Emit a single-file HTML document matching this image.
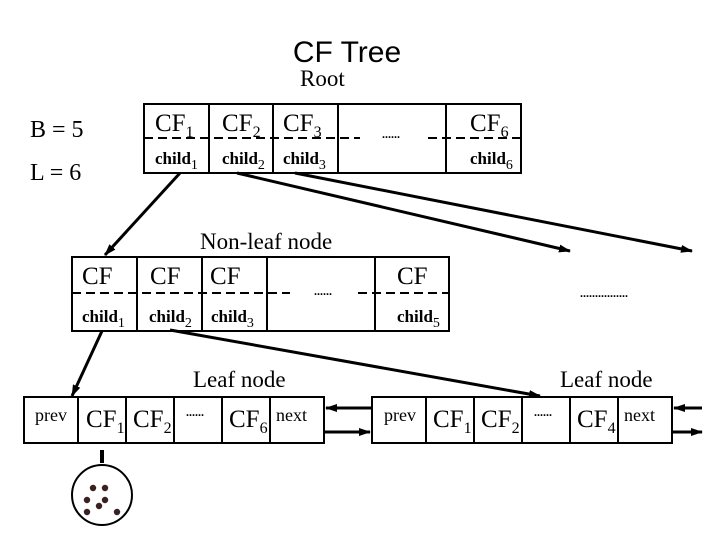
<!DOCTYPE html>
<html><head><style>
body{margin:0;background:#fff}
svg{display:block}
text{font-family:"Liberation Serif",serif;fill:#000}
</style></head><body>
<svg width="720" height="540" viewBox="0 0 720 540">
<defs><marker id="a" markerWidth="12" markerHeight="10" refX="11" refY="5" orient="auto" markerUnits="userSpaceOnUse"><path d="M0,1 L12,5 L0,9 z" fill="#000"/></marker></defs>
<text x="347" y="62" font-size="30" text-anchor="middle" style="font-family:'Liberation Sans',sans-serif">CF Tree</text>
<text x="300" y="86" font-size="23">Root</text>
<text x="30" y="137" font-size="24">B = 5</text>
<text x="30" y="180" font-size="24">L = 6</text>
<g stroke="#000" stroke-width="2" fill="none">
<rect x="144" y="104" width="377" height="69"/>
<path d="M209,104V173M273,104V173M338,104V173M446,104V173"/>
<path d="M144,138H360M428,138H521" stroke-dasharray="9,5"/>
<rect x="72" y="257" width="377" height="74"/>
<path d="M137,257V331M202,257V331M267,257V331M375,257V331"/>
<path d="M72,293H290M358,293H449" stroke-dasharray="9,5"/>
<rect x="24" y="397" width="300" height="46"/>
<path d="M78,397V443M126,397V443M174,397V443M222,397V443M270,397V443"/>
<rect x="372" y="397" width="300" height="46"/>
<path d="M426,397V443M474,397V443M522,397V443M570,397V443M618,397V443"/>
<g stroke-width="3">
<path d="M180,173L105,255" marker-end="url(#a)"/>
<path d="M237,173L570,251" marker-end="url(#a)"/>
<path d="M295,173L692,251" marker-end="url(#a)"/>
<path d="M102,331L72,396" marker-end="url(#a)"/>
<path d="M170,330L540,396" marker-end="url(#a)"/>
<path d="M372,408L326,408" marker-end="url(#a)"/>
<path d="M324,432L370,432" marker-end="url(#a)"/>
<path d="M702,408L674,408" marker-end="url(#a)"/>
<path d="M672,432L702,432" marker-end="url(#a)"/>
<path d="M102,450V463" stroke-width="4"/>
</g>
<circle cx="102" cy="495" r="30"/>
</g>
<g fill="#3a2020">
<circle cx="93" cy="488" r="3.2"/><circle cx="105" cy="488" r="3.2"/><circle cx="87" cy="500" r="3.2"/><circle cx="105" cy="500" r="3.2"/><circle cx="99" cy="506" r="3.2"/><circle cx="87" cy="512" r="3.2"/><circle cx="117" cy="512" r="3.2"/>
</g>
<g font-size="25">
<text x="155" y="131">CF<tspan font-size="16" dy="6">1</tspan></text>
<text x="222" y="131">CF<tspan font-size="16" dy="6">2</tspan></text>
<text x="283" y="131">CF<tspan font-size="16" dy="6">3</tspan></text>
<text x="470" y="131">CF<tspan font-size="16" dy="6">6</tspan></text>
<text x="82" y="284">CF</text><text x="150" y="284">CF</text><text x="210" y="284">CF</text><text x="397" y="284">CF</text>
<text x="86" y="427">CF<tspan font-size="16" dy="6">1</tspan></text>
<text x="133" y="427">CF<tspan font-size="16" dy="6">2</tspan></text>
<text x="229" y="427">CF<tspan font-size="16" dy="6">6</tspan></text>
<text x="433" y="427">CF<tspan font-size="16" dy="6">1</tspan></text>
<text x="481" y="427">CF<tspan font-size="16" dy="6">2</tspan></text>
<text x="577" y="427">CF<tspan font-size="16" dy="6">4</tspan></text>
</g>
<g font-size="23">
<text x="200" y="249">Non-leaf node</text>
<text x="193" y="387">Leaf node</text>
<text x="560" y="387">Leaf node</text>
</g>
<g font-size="17" font-weight="bold">
<text x="155" y="164">child<tspan font-size="14" font-weight="normal" dy="5">1</tspan></text>
<text x="222" y="164">child<tspan font-size="14" font-weight="normal" dy="5">2</tspan></text>
<text x="283" y="164">child<tspan font-size="14" font-weight="normal" dy="5">3</tspan></text>
<text x="470" y="164">child<tspan font-size="14" font-weight="normal" dy="5">6</tspan></text>
<text x="82" y="322">child<tspan font-size="14" font-weight="normal" dy="5">1</tspan></text>
<text x="149" y="322">child<tspan font-size="14" font-weight="normal" dy="5">2</tspan></text>
<text x="211" y="322">child<tspan font-size="14" font-weight="normal" dy="5">3</tspan></text>
<text x="397" y="322">child<tspan font-size="14" font-weight="normal" dy="5">5</tspan></text>
</g>
<g font-size="18">
<text x="35" y="421">prev</text><text x="276" y="421">next</text>
<text x="384" y="421">prev</text><text x="624" y="421">next</text>
</g>
<g font-size="12" font-weight="bold">
<text x="382" y="138">......</text><text x="314" y="295">......</text>
<text x="580" y="297">................</text>
<text x="186" y="416">......</text><text x="534" y="416">......</text>
</g>
</svg>
</body></html>
